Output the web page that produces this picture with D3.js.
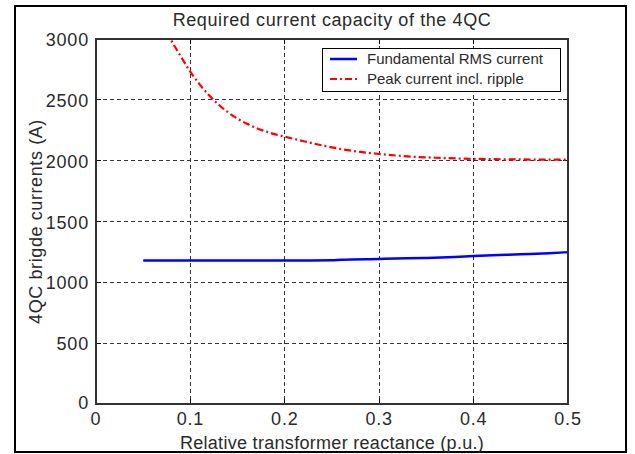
<!DOCTYPE html>
<html>
<head>
<meta charset="utf-8">
<script src="https://cdn.jsdelivr.net/npm/d3@7"></script>
<style>
  body { margin: 0; background: #fff; }
  text { font-family: "Liberation Sans", Arial, sans-serif; fill: #2a2a2a; }
</style>
</head>
<body>
<div id="c"></div>
<script>
"use strict";

// values
const rmsX = [0.05, 0.10, 0.15, 0.20, 0.25, 0.26, 0.30, 0.33, 0.35, 0.38, 0.40, 0.42, 0.45, 0.48, 0.50]
const rmsY = [1180, 1180, 1180, 1180, 1181, 1186, 1192, 1197, 1201, 1209, 1216, 1222, 1231, 1240, 1248]

const peakX = [0.075, 0.08, 0.09, 0.10, 0.11, 0.12, 0.13, 0.14, 0.15, 0.16, 0.17, 0.18, 0.19, 0.20,
               0.22, 0.24, 0.26, 0.28, 0.30, 0.33, 0.36, 0.40, 0.45, 0.50]
const peakY = [3060, 2985, 2855, 2730, 2625, 2535, 2460, 2397, 2345, 2303, 2268, 2240, 2216, 2197,
               2160, 2125, 2095, 2072, 2055, 2035, 2024, 2015, 2010, 2008]

const xTicks = [0, 0.1, 0.2, 0.3, 0.4, 0.5]
const yTicks = [0, 500, 1000, 1500, 2000, 2500, 3000]

const seriesNames = ["Fundamental RMS current", "Peak current incl. ripple"]
const seriesColors = ["#0000ff", "#ff0000"]

const W = 635, H = 454
const margin = {top: 39, right: 67, bottom: 50, left: 96}
const width = W - margin.left - margin.right
const height = H - margin.top - margin.bottom

let mainSvg = d3.select('#c').append('svg')
    .attr('width', W).attr('height', H)

// figure frame
mainSvg.append('rect')
    .attr('x', 15).attr('y', 6)
    .attr('width', 611).attr('height', 446)
    .attr('fill', 'none').attr('stroke', '#000').attr('stroke-width', 2)

let svg = mainSvg.append('g')
    .attr('transform', "translate(" + margin.left + "," + margin.top + ")")

let xScale = d3.scaleLinear().domain([0, 0.5]).range([0, width])
let yScale = d3.scaleLinear().domain([0, 3000]).range([height, 0])

// grid
svg.append('g').selectAll('line')
    .data(xTicks.slice(1, -1)).enter().append('line')
    .attr('x1', d => xScale(d)).attr('x2', d => xScale(d))
    .attr('y1', 0).attr('y2', height)
    .attr('stroke', '#333').attr('stroke-dasharray', '4,3')
    .attr('shape-rendering', 'crispEdges')
svg.append('g').selectAll('line')
    .data(yTicks.slice(1, -1)).enter().append('line')
    .attr('y1', d => yScale(d)).attr('y2', d => yScale(d))
    .attr('x1', 0).attr('x2', width)
    .attr('stroke', '#333').attr('stroke-dasharray', '4,3')
    .attr('shape-rendering', 'crispEdges')

// ticks inside on all four sides
const tl = 5
xTicks.forEach(t => {
    svg.append('line').attr('x1', xScale(t)).attr('x2', xScale(t))
        .attr('y1', height).attr('y2', height - tl).attr('stroke', '#000')
        .attr('shape-rendering', 'crispEdges')
    svg.append('line').attr('x1', xScale(t)).attr('x2', xScale(t))
        .attr('y1', 0).attr('y2', tl).attr('stroke', '#000')
        .attr('shape-rendering', 'crispEdges')
})
yTicks.forEach(t => {
    svg.append('line').attr('y1', yScale(t)).attr('y2', yScale(t))
        .attr('x1', 0).attr('x2', tl).attr('stroke', '#000')
        .attr('shape-rendering', 'crispEdges')
    svg.append('line').attr('y1', yScale(t)).attr('y2', yScale(t))
        .attr('x1', width).attr('x2', width - tl).attr('stroke', '#000')
        .attr('shape-rendering', 'crispEdges')
})

// tick labels
svg.append('g').selectAll('text')
    .data(xTicks).enter().append('text')
    .attr('x', d => xScale(d)).attr('y', height + 21)
    .attr('text-anchor', 'middle')
    .style('font-size', '18px').style('letter-spacing', '0.8px')
    .text(d => d3.format("")(d))
svg.append('g').selectAll('text')
    .data(yTicks).enter().append('text')
    .attr('x', -7).attr('y', d => yScale(d) + (d == 0 ? 5 : 7))
    .attr('text-anchor', 'end')
    .style('font-size', '18px').style('letter-spacing', '0.8px')
    .text(d => d)

// curves, clipped to the axes box
svg.append('clipPath').attr('id', 'clip')
    .append('rect').attr('width', width).attr('height', height)

let line = d3.line()
    .x(d => xScale(d[0])).y(d => yScale(d[1]))
    .curve(d3.curveMonotoneX)

svg.append('path')
    .datum(rmsX.map((x, i) => [x, rmsY[i]]))
    .attr('clip-path', 'url(#clip)')
    .attr('fill', 'none').attr('stroke', seriesColors[0]).attr('stroke-width', 2.5)
    .attr('d', line)
svg.append('path')
    .datum(peakX.map((x, i) => [x, peakY[i]]))
    .attr('clip-path', 'url(#clip)')
    .attr('fill', 'none').attr('stroke', seriesColors[1]).attr('stroke-width', 2.2)
    .attr('stroke-dasharray', '7,3,2,3')
    .attr('d', line)

// axes box
svg.append('rect')
    .attr('width', width).attr('height', height)
    .attr('fill', 'none').attr('stroke', '#333').attr('stroke-width', 1.5)
    .attr('shape-rendering', 'crispEdges')

// titles
mainSvg.append('text')
    .attr('x', margin.left + width / 2).attr('y', 26)
    .attr('text-anchor', 'middle')
    .style('font-size', '18px').style('letter-spacing', '0.6px')
    .text("Required current capacity of the 4QC")
mainSvg.append('text')
    .attr('x', margin.left + width / 2).attr('y', 449)
    .attr('text-anchor', 'middle')
    .style('font-size', '18px').style('letter-spacing', '0.3px')
    .text("Relative transformer reactance (p.u.)")
mainSvg.append('text')
    .attr('transform', 'translate(42,' + (margin.top + height / 2) + ') rotate(-90)')
    .attr('text-anchor', 'middle')
    .style('font-size', '18px').style('letter-spacing', '0.6px')
    .text("4QC brigde currents (A)")

// legend
let legend = mainSvg.append('g').attr('transform', 'translate(322,48)')
legend.append('rect')
    .attr('width', 238).attr('height', 43)
    .attr('fill', '#fff').attr('stroke', '#000').attr('stroke-width', 1)
    .attr('shape-rendering', 'crispEdges')
seriesNames.forEach((name, i) => {
    let y = 11 + i * 20
    legend.append('line')
        .attr('x1', 8).attr('x2', 35).attr('y1', y).attr('y2', y)
        .attr('stroke', seriesColors[i]).attr('stroke-width', i == 0 ? 2.5 : 2.2)
        .attr('stroke-dasharray', i == 0 ? null : '7,3,2,3')
    legend.append('text')
        .attr('x', 45).attr('y', y + 5)
        .style('font-size', '15px')
        .text(name)
})
</script>
</body>
</html>
